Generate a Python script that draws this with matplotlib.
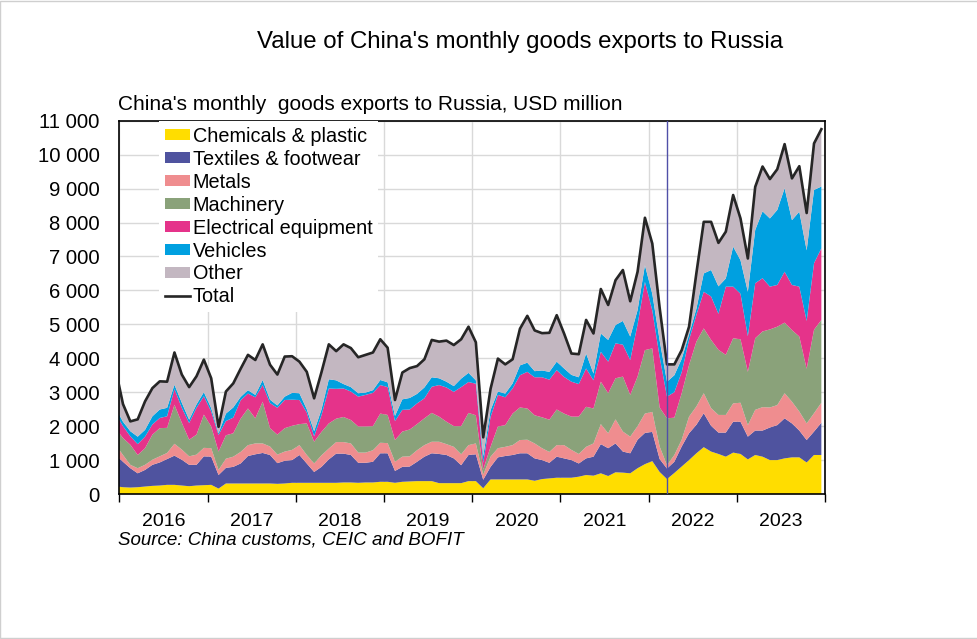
import numpy as np
import pandas as pd
import matplotlib
matplotlib.use("Agg")
from matplotlib import pyplot as plt
from matplotlib.patches import Patch, Rectangle
from matplotlib.lines import Line2D

plt.rcParams['font.family'] = ['Liberation Sans', 'DejaVu Sans']

# monthly data, Dec 2015 .. Dec 2023, USD million
months = pd.period_range('2015-12', '2023-12', freq='M')

chem = [230,
        200, 190, 200, 220, 240, 250, 270, 270, 250, 230, 250, 260,
        270, 160, 310, 310, 310, 310, 310, 310, 310, 300, 310, 330,
        330, 330, 330, 330, 330, 330, 340, 340, 330, 340, 340, 360,
        360, 330, 360, 370, 380, 380, 380, 320, 320, 320, 320, 380,
        380, 170, 430, 430, 430, 430, 430, 430, 390, 440, 460, 480,
        480, 480, 510, 560, 540, 610, 530, 640, 630, 610, 760, 880,
        970, 650, 440, 620, 810, 1000, 1200, 1380, 1250, 1180, 1100, 1220,
        1180, 1020, 1150, 1100, 1000, 1000, 1050, 1080, 1080, 930, 1150, 1150]

textiles = [920,
            750, 570, 410, 490, 620, 680, 760, 860, 760, 630, 610, 850,
            830, 400, 460, 490, 590, 810, 860, 900, 840, 610, 670, 670,
            820, 570, 320, 470, 690, 860, 850, 810, 590, 580, 610, 840,
            840, 350, 440, 440, 570, 720, 820, 860, 830, 730, 530, 770,
            790, 250, 370, 650, 690, 720, 770, 770, 660, 560, 460, 620,
            570, 520, 390, 490, 560, 860, 820, 850, 620, 590, 840, 920,
            860, 380, 310, 330, 590, 790, 840, 1000, 760, 630, 710, 910,
            950, 670, 720, 770, 960, 1030, 1180, 1000, 790, 660, 690, 950]

metals = [300,
          200, 100, 150, 150, 150, 180, 180, 350, 300, 250, 300, 250,
          250, 150, 270, 300, 340, 320, 320, 280, 250, 250, 270, 300,
          290, 250, 250, 340, 320, 340, 340, 340, 300, 300, 340, 310,
          300, 270, 300, 300, 340, 340, 340, 360, 320, 340, 320, 290,
          320, 150, 300, 270, 270, 290, 390, 400, 440, 350, 320, 340,
          390, 300, 280, 340, 390, 590, 440, 710, 590, 490, 400, 570,
          590, 370, 100, 200, 200, 490, 540, 590, 520, 520, 520, 540,
          560, 340, 610, 690, 590, 590, 740, 640, 560, 490, 540, 590]

machinery = [480,
             500, 590, 390, 490, 740, 830, 740, 1150, 790, 490, 590, 980,
             640, 540, 690, 690, 980, 1080, 740, 1230, 540, 590, 690, 710,
             620, 930, 640, 690, 740, 690, 740, 690, 770, 770, 710, 860,
             830, 640, 740, 790, 770, 790, 850, 740, 660, 610, 830, 950,
             830, 150, 290, 640, 640, 930, 960, 920, 830, 910, 950, 1050,
             930, 980, 1100, 1180, 1030, 1250, 1180, 1210, 1620, 1230, 1460, 1870,
             1870, 1150, 1380, 1100, 1370, 1520, 1910, 1910, 2010, 1920, 1770, 1920,
             1870, 1570, 2110, 2230, 2300, 2310, 2080, 2110, 2210, 1610, 2460, 2440]

electrical = [430,
              350, 250, 320, 340, 300, 300, 340, 460, 440, 490, 790, 540,
              440, 490, 420, 460, 540, 440, 620, 490, 740, 790, 830, 770,
              710, 320, 160, 490, 1030, 880, 840, 840, 880, 930, 980, 840,
              820, 560, 640, 590, 610, 590, 770, 930, 1010, 1010, 1150, 910,
              930, 200, 880, 930, 820, 740, 950, 1080, 1120, 1180, 1180, 1160,
              1080, 1030, 960, 1130, 830, 880, 930, 1030, 940, 1030, 1540, 2010,
              1120, 1490, 640, 750, 620, 740, 790, 1080, 1280, 1060, 2010, 1520,
              1340, 1050, 1620, 1570, 1260, 1230, 1500, 1330, 1470, 1410, 1960, 2110]

vehicles = [170,
            130, 150, 220, 200, 240, 250, 250, 130, 150, 100, 100, 120,
            100, 50, 220, 300, 100, 100, 70, 150, 100, 70, 100, 200,
            200, 100, 150, 170, 270, 250, 130, 130, 100, 70, 80, 150,
            140, 150, 310, 340, 280, 320, 280, 200, 170, 170, 250, 270,
            100, 200, 200, 100, 110, 150, 290, 270, 180, 200, 230, 250,
            250, 200, 200, 440, 200, 540, 640, 540, 700, 690, 420, 490,
            490, 490, 440, 500, 390, 160, 180, 540, 780, 810, 240, 1180,
            990, 1310, 1570, 1970, 2010, 2210, 2460, 1910, 2210, 2080, 2160, 1820]

other = [1140,
         520, 290, 510, 840, 830, 830, 770, 950, 830, 960, 830, 960,
         880, 190, 650, 710, 830, 1040, 1030, 1050, 1030, 910, 1180, 1080,
         930, 1100, 970, 1100, 1030, 860, 1170, 1150, 1060, 1110, 1110, 1200,
         1020, 470, 790, 880, 820, 830, 1100, 1080, 1210, 1210, 1160, 1360,
         1120, 550, 630, 970, 860, 710, 1080, 1380, 1200, 1100, 1150, 1370,
         1030, 630, 680, 990, 1180, 1310, 1030, 1320, 1500, 1040, 1130, 1400,
         1480, 960, 510, 320, 260, 230, 1050, 1520, 1420, 1280, 1380, 1520,
         1230, 980, 1270, 1320, 1160, 1200, 1300, 1230, 1340, 1100, 1370, 1690]

labels = ['Chemicals & plastic', 'Textiles & footwear', 'Metals', 'Machinery',
          'Electrical equipment', 'Vehicles', 'Other']
colors = ['#FFDD00', '#4F539F', '#EF8D8F', '#8AA27A', '#E5338A', '#00A0E0', '#C3B7C1']
years = list(range(2016, 2024))
war_month = pd.Period('2022-03', freq='M')

series = [chem, textiles, metals, machinery, electrical, vehicles, other]
total = np.sum(np.array(series), axis=0)

# x = month index, Jan 2016 = 0
start = pd.Period('2016-01', freq='M')
x = np.array([(m - start).n for m in months])

fig = plt.figure(figsize=(9.78, 6.39), dpi=100)
ax = fig.add_axes([0.122, 0.2269, 0.7216, 0.5842])

ax.stackplot(x, *series, colors=colors, linewidth=0, zorder=2)
ax.plot(x, total, color='#262626', lw=1.9, zorder=3)
ax.axvline((war_month - start).n, color='#5050A8', lw=1, zorder=4)

ax.set_xlim(-0.5, 95.5)
ax.set_ylim(0, 11000)
ax.set_yticks(np.arange(0, 11001, 1000))
ax.set_yticklabels([f'{v:,}'.replace(',', ' ') for v in range(0, 11001, 1000)])

bounds = [12 * k - 0.5 for k in range(len(years) + 1)]
ax.set_xticks(bounds)
ax.set_xticklabels([])
ax.set_xticks([12 * k + 5.5 for k in range(len(years))], minor=True)
ax.set_xticklabels([str(y) for y in years], minor=True)
ax.tick_params(axis='x', which='major', length=6, width=1, direction='out')
ax.tick_params(axis='x', which='minor', length=0, pad=13.5, labelsize=14)
ax.tick_params(axis='y', length=0, pad=14, labelsize=14.6)

ax.grid(True, which='major', color='#D9D9D9', lw=1, zorder=0)
ax.set_axisbelow(True)
for sp in ax.spines.values():
    sp.set_color('black')
    sp.set_linewidth(1.2)

handles = [Patch(facecolor=c, edgecolor='none') for c in colors]
handles.append(Line2D([], [], color='#262626', lw=1.9))
leg = ax.legend(handles, labels + ['Total'], loc='upper left',
                bbox_to_anchor=(0.056, 1.0), borderaxespad=0, borderpad=0.3,
                frameon=True, fancybox=False, framealpha=1, edgecolor='none',
                fontsize=14.3, handlelength=1.25, handleheight=0.5,
                handletextpad=0.15, labelspacing=0.2)
leg.set_zorder(5)

fig.text(0.532, 0.934, "Value of China's monthly goods exports to Russia",
         ha='center', va='center', fontsize=17.3)
fig.text(0.1207, 0.836, "China's monthly  goods exports to Russia, USD million",
         ha='left', va='center', fontsize=15)
fig.text(0.1207, 0.155, "Source: China customs, CEIC and BOFIT",
         ha='left', va='center', fontsize=13.5, style='italic')

fig.add_artist(Rectangle((0.0005, 0.0008), 0.999, 0.9984, transform=fig.transFigure,
                         fill=False, edgecolor='#CFCFCF', lw=1))

fig.savefig('out.png', dpi=100, facecolor='white')
